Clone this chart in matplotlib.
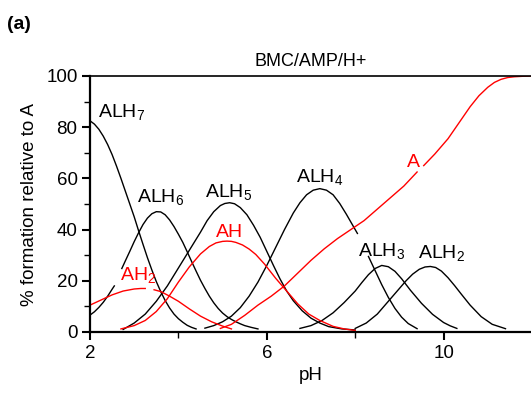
import numpy as np
import matplotlib
matplotlib.use("Agg")
import matplotlib.pyplot as plt
from matplotlib.ticker import MultipleLocator

plt.rcParams['font.family'] = ['Liberation Sans', 'DejaVu Sans']
plt.rcParams['mathtext.fontset'] = 'custom'
plt.rcParams['mathtext.rm'] = 'Liberation Sans'
plt.rcParams['mathtext.it'] = 'Liberation Sans'
plt.rcParams['mathtext.bf'] = 'Liberation Sans:bold'

nan = np.nan

# ---- data (pH, % formation) ----
alh7_ph = [2.0, 2.1, 2.2, 2.3, 2.4, 2.5, 2.6, 2.7, 2.8, 2.9, 3.0, 3.1, 3.2, 3.3, 3.4, 3.5,
           3.6, 3.7, 3.8, 3.9, 4.0, 4.1, 4.2, 4.3, 4.4]
alh7_y = [82.5, 81.2, 79.2, 76.5, 73.2, 69.3, 64.8, 60, 55, 50, 45, 39.5, 34.2, 29, 24.2, 19.7,
          15.8, 12.3, 9.4, 7, 5.2, 3.8, 2.6, 1.8, 1.2]

alh6_ph = [2.0, 2.1, 2.2, 2.3, 2.4, 2.5, 2.55, nan, 2.72, 2.8, 2.9, 3.0, 3.1, 3.2, 3.3, 3.4, 3.5,
           3.6, 3.7, 3.8, 3.9, 4.0, 4.1, 4.2, 4.3, 4.4, 4.5, 4.6, 4.7, 4.8, 4.9, 5.0,
           5.1, 5.2, 5.3, 5.4, 5.5, 5.65, 5.8]
alh6_y = [6.6, 7.9, 9.6, 11.6, 14, 16.7, 18, nan, 24.8, 27.8, 31.5, 35.3, 38.8, 42, 44.5, 46.2, 47,
          46.9, 45.8, 43.8, 41.2, 38.2, 35, 31.3, 27.5, 23.8, 20.2, 17, 14, 11.4, 9.2, 7.4,
          6, 4.9, 4, 3.2, 2.5, 1.8, 1.2]

alh5_ph = [2.75, 3.0, 3.25, 3.5, 3.75, 4.0, 4.25, 4.5, 4.65, 4.8, 4.95, 5.05, 5.16, 5.27, 5.4,
           5.55, 5.7, 5.85, 6.0, 6.15, 6.3, 6.45, 6.6, 6.8, 7.0, 7.2, 7.4, 7.7, 8.0]
alh5_y = [1.0, 3.5, 7, 12, 18, 25, 32, 39, 43.5, 47, 49.4, 50.2, 50.5, 50.1, 48.6,
          45.8, 41.7, 37, 31.5, 26, 20.7, 16, 12.2, 8.3, 5.4, 3.5, 2.1, 1.2, 0.8]

alh4_ph = [4.6, 4.8, 5.0, 5.2, 5.4, 5.6, 5.8, 6.0, 6.2, 6.4, 6.6, 6.75, 6.9, 7.05, 7.2, 7.35,
           7.5, 7.65, 7.8, 7.95, 8.05, nan, 8.3, 8.45, 8.6, 8.75, 8.9, 9.05, 9.2, 9.4]
alh4_y = [1.5, 2.5, 4, 6.2, 9.5, 14, 19.5, 26, 33, 40, 46.5, 50.5, 53.6, 55.4, 56, 55.4,
          53.6, 50.2, 46, 41.5, 38.5, nan, 29.5, 24, 18.5, 13.5, 9.2, 5.8, 3.3, 1.3]

alh3_ph = [6.75, 7.0, 7.25, 7.5, 7.75, 8.0, 8.15, 8.3, 8.45, 8.6, 8.75, 8.9, 9.05, 9.25, 9.5,
           9.75, 10.0, 10.15, 10.3]
alh3_y = [1.4, 2.5, 4.5, 7.5, 11.5, 16, 19.3, 22.4, 24.8, 26, 25.5, 23.7, 20.8, 16.3, 11.2,
          6.9, 3.7, 2.4, 1.4]

alh2_ph = [8.0, 8.25, 8.5, 8.75, 9.0, 9.15, 9.3, 9.45, 9.58, 9.7, 9.82, 9.95, 10.1, 10.25,
           10.4, 10.6, 10.85, 11.1, 11.4]
alh2_y = [1.4, 3.5, 7, 12, 17, 20, 22.6, 24.5, 25.4, 25.6, 25.2, 23.8, 21.2, 18.1,
          14.8, 10.5, 6, 3, 1.3]

ah2_ph = [2.0, 2.25, 2.5, 2.75, 3.0, 3.15, 3.25, nan, 3.45, 3.6, 3.8, 4.0, 4.25, 4.5, 4.75,
          5.0, 5.2]
ah2_y = [10.5, 12.5, 14.5, 16, 16.8, 17, 17, nan, 16.5, 15.8, 14, 12, 9, 6.2, 4,
         2.3, 1.2]

ah_ph = [2.7, 3.0, 3.25, 3.5, 3.75, 4.0, 4.25, 4.5, 4.7, 4.85, 5.0, 5.1, 5.2, 5.3, 5.45,
         5.6, 5.75, 5.95, 6.2, 6.45, 6.7, 6.95, 7.2, 7.5, 7.75, 8.0]
ah_y = [1.2, 2.5, 4.5, 8, 13, 19.5, 25.5, 30.5, 33.4, 34.8, 35.4, 35.5, 35.4, 35, 34,
        32.4, 30.3, 26.5, 21, 16, 11, 7, 4.5, 2.2, 1.2, 0.6]

a_ph = [4.95, 5.2, 5.5, 5.8, 6.1, 6.4, 6.7, 7.0, 7.3, 7.6, 7.9, 8.2, 8.5, 8.8, 9.1, 9.4, nan,
        9.55, 9.8, 10.1, 10.4, 10.6, 10.8, 11.0, 11.15, 11.3, 11.45, 11.6, 11.8, 12.0]
a_y = [1.4, 3, 6.5, 10.5, 14, 18, 23, 28, 32.5, 36.5, 40, 43.5, 48, 52.5, 57, 62.5, nan,
       65, 69.5, 75.5, 83, 88, 92.3, 95.6, 97.5, 98.7, 99.4, 99.7, 99.9, 100]

black_series = [(alh7_ph, alh7_y), (alh6_ph, alh6_y), (alh5_ph, alh5_y),
                (alh4_ph, alh4_y), (alh3_ph, alh3_y), (alh2_ph, alh2_y)]
red_series = [(ah2_ph, ah2_y), (ah_ph, ah_y), (a_ph, a_y)]

# labels: (text, pH, %, colour)
labels = [("ALH$_7$", 2.18, 84.0, 'black'),
          ("ALH$_6$", 3.06, 50.8, 'black'),
          ("ALH$_5$", 4.60, 52.7, 'black'),
          ("ALH$_4$", 6.66, 58.6, 'black'),
          ("ALH$_3$", 8.07, 29.7, 'black'),
          ("ALH$_2$", 9.42, 29.0, 'black'),
          ("AH", 4.86, 37.2, 'red'),
          ("AH$_2$", 2.68, 20.3, 'red'),
          ("A", 9.16, 64.6, 'red')]

xticks = [2, 6, 10]
yticks = [0, 20, 40, 60, 80, 100]

fig = plt.figure(figsize=(5.31, 3.94), dpi=100)
ax = fig.add_axes([90/531, 62/394, 442/531, 256/394])

for x, y in black_series:
    ax.plot(x, y, color='black', lw=1.0)
for x, y in red_series:
    ax.plot(x, y, color='#ff0000', lw=1.0)

for txt, x, y, c in labels:
    ax.text(x, y, txt, color=c, fontsize=14, ha='left', va='baseline')

ax.set_xlim(2, 12)
ax.set_ylim(0, 100)
ax.set_xticks(xticks)
ax.set_yticks(yticks)
ax.xaxis.set_minor_locator(MultipleLocator(2))
ax.yaxis.set_minor_locator(MultipleLocator(10))
ax.tick_params(which='major', direction='out', length=6, width=1.5, labelsize=13.5, pad=3)
ax.tick_params(which='minor', direction='out', length=4, width=1.0)
for s in ['left', 'bottom']:
    ax.spines[s].set_linewidth(1.6)
ax.spines['top'].set_linewidth(1.2)
ax.spines['right'].set_visible(False)

ax.set_xlabel("pH", fontsize=13.5, labelpad=4)
ax.set_ylabel("% formation relative to A", fontsize=13.5, labelpad=6)
ax.set_title("BMC/AMP/H+", fontsize=13, pad=7)
fig.text(7/531, 1 - 29/394, "(a)", fontsize=14, fontweight='bold', ha='left', va='baseline')

fig.savefig("out.png", dpi=100)
